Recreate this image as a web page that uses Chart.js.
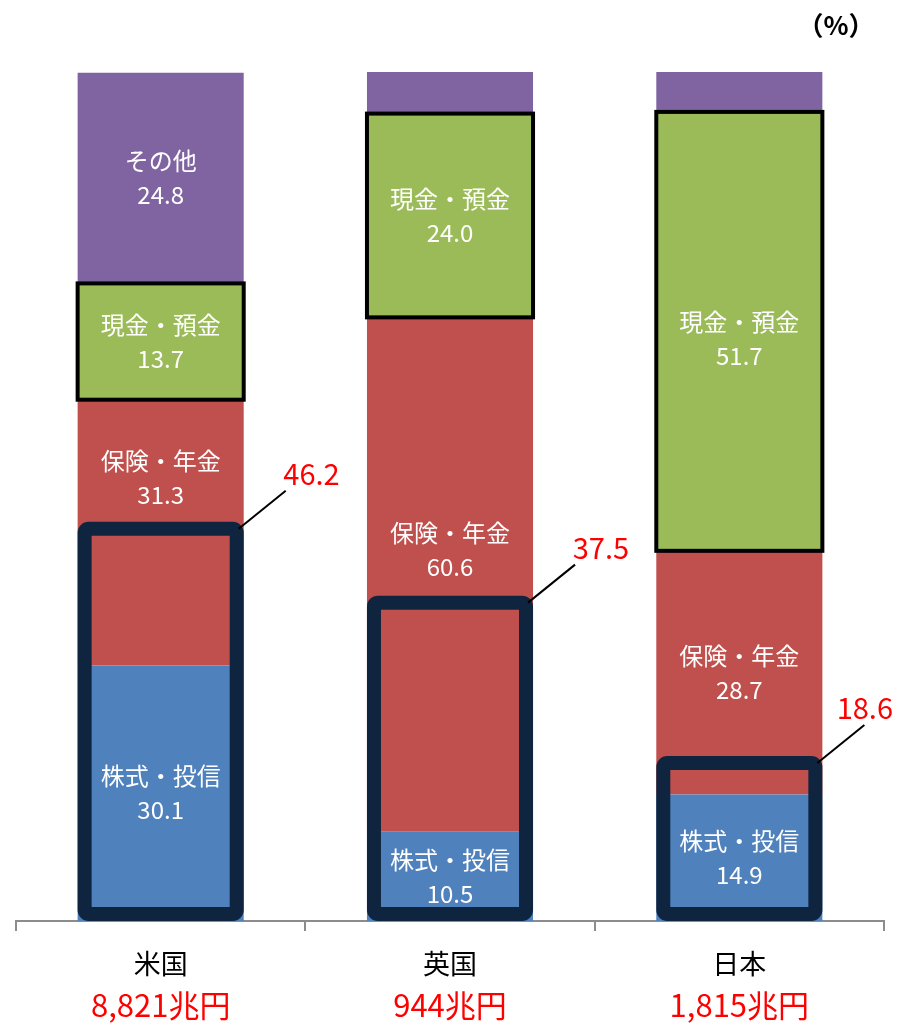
<!DOCTYPE html>
<html>
<head>
<meta charset="utf-8">
<script src="https://cdn.jsdelivr.net/npm/chart.js@4/dist/chart.umd.min.js"></script>
<style>
  body { margin: 0; background: #fff; }
  #wrap { width: 897px; height: 1023px; position: relative; }
</style>
</head>
<body>
<div id="wrap"><canvas id="myChart"></canvas></div>
<script>
// data
const countries = ['米国', '英国', '日本'];
const totals = ['8,821兆円', '944兆円', '1,815兆円'];
const seriesNames = ['株式・投信', '保険・年金', '現金・預金', 'その他'];
const stocks = [30.1, 10.5, 14.9];
const insurance = [31.3, 60.6, 28.7];
const cash = [13.7, 24.0, 51.7];
const others = [24.8, 4.9, 4.7];
const riskShare = [46.2, 37.5, 18.6];   // 株式・投信 + 保険・年金のうちリスク資産
// which segments get a text label (others of UK / Japan are too small)
const showLabel = [
  [true, true, true],
  [true, true, true],
  [true, true, true],
  [true, false, false]
];

const colors = ['#4F81BD', '#C0504D', '#9BBB59', '#8064A2'];
const JP = "'Noto Sans CJK JP', 'Noto Sans', sans-serif";

// manual label shift (px) like in the original, to keep text off the boxes
const labelShift = { '1-0': -55, '1-1': -25, '2-2': 8 };

const overlay = {
  id: 'overlay',
  afterDatasetsDraw(chart) {
    const ctx = chart.ctx;
    const y = chart.scales.y;
    const base = y.getPixelForValue(0);

    // black border round 現金・預金
    const cashMeta = chart.getDatasetMeta(2);
    ctx.save();
    ctx.strokeStyle = '#000';
    ctx.lineWidth = 4;
    cashMeta.data.forEach(bar => {
      const w = bar.width;
      ctx.strokeRect(bar.x - w / 2, bar.y, w, bar.base - bar.y);
    });
    ctx.restore();

    // segment labels
    ctx.save();
    ctx.fillStyle = '#fff';
    ctx.textAlign = 'center';
    ctx.textBaseline = 'middle';
    ctx.font = '24px ' + JP;
    chart.data.datasets.forEach((ds, di) => {
      const meta = chart.getDatasetMeta(di);
      meta.data.forEach((bar, i) => {
        if (!showLabel[di][i]) return;
        let cy = (bar.y + bar.base) / 2 + (labelShift[di + '-' + i] || 0);
        ctx.fillText(seriesNames[di], bar.x, cy - 17);
        ctx.fillText(ds.data[i].toFixed(1), bar.x, cy + 17);
      });
    });
    ctx.restore();

    // navy boxes + red callouts
    const m0 = chart.getDatasetMeta(0);
    ctx.save();
    m0.data.forEach((bar, i) => {
      const w = bar.width;
      const left = bar.x - w / 2, right = bar.x + w / 2;
      const top = y.getPixelForValue(riskShare[i]);
      const lw = 14;
      ctx.strokeStyle = '#0F243E';
      ctx.lineWidth = lw;
      ctx.lineJoin = 'round';
      ctx.beginPath();
      ctx.roundRect(left + lw / 2, top, w - lw, base - lw / 2 - top, 4);
      ctx.stroke();

      ctx.strokeStyle = '#000';
      ctx.lineWidth = 2;
      ctx.beginPath();
      ctx.moveTo(right - 5, top);
      ctx.lineTo(right + 42, top - 38);
      ctx.stroke();

      ctx.fillStyle = '#FF0000';
      ctx.font = '29px ' + JP;
      ctx.textBaseline = 'middle';
      ctx.textAlign = 'right';
      const tx = Math.min(right + 96, 893);
      ctx.fillText(riskShare[i].toFixed(1), tx, top - 55);
    });
    ctx.restore();

    // totals under country names
    const x = chart.scales.x;
    ctx.save();
    ctx.fillStyle = '#FF0000';
    ctx.font = '31px ' + JP;
    ctx.textAlign = 'center';
    ctx.textBaseline = 'middle';
    totals.forEach((t, i) => {
      ctx.fillText(t, x.getPixelForValue(i), 1005);
    });
    // unit
    ctx.fillStyle = '#000';
    ctx.font = 'bold 26px ' + JP;
    ctx.fillText('（%）', 836, 25);
    ctx.restore();
  }
};

const data = {
  labels: countries,
  datasets: [stocks, insurance, cash, others].map((d, i) => ({
    label: seriesNames[i],
    data: d,
    backgroundColor: colors[i],
    borderWidth: 0,
    barPercentage: 0.574,
    categoryPercentage: 1.0
  }))
};

const config = {
  type: 'bar',
  data,
  options: {
    responsive: true,
    maintainAspectRatio: false,
    animation: false,
    layout: { padding: { left: 16, right: 13, top: 72, bottom: 0 } },
    plugins: {
      legend: { display: false },
      tooltip: { enabled: false },
      title: { display: false }
    },
    scales: {
      x: {
        stacked: true,
        afterFit: (s) => { s.height = 102; },
        border: { display: true, color: '#8c8c8c', width: 2 },
        grid: {
          display: true,
          offset: true,
          drawOnChartArea: false,
          drawTicks: true,
          tickLength: 10,
          color: '#8c8c8c',
          lineWidth: 2
        },
        ticks: {
          color: '#000',
          padding: 17,
          font: { family: JP, size: 27 }
        }
      },
      y: {
        stacked: true,
        display: false,
        min: 0,
        max: 100
      }
    }
  },
  plugins: [overlay]
};

myChart = new Chart(document.getElementById('myChart'), config);
</script>
</body>
</html>
